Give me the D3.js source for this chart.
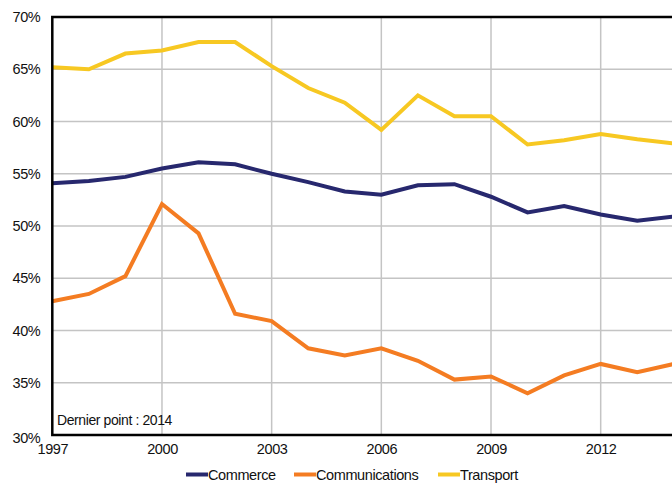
<!DOCTYPE html>
<html>
<head>
<meta charset="utf-8">
<script src="https://cdn.jsdelivr.net/npm/d3@7/dist/d3.min.js"></script>
<style>
  html, body { margin: 0; padding: 0; background: #fff; overflow: hidden; }
  svg { display: block; }
  text { font-family: "Liberation Sans", Arial, sans-serif; fill: #111; }
</style>
</head>
<body>
<svg id="chart" width="672" height="483"></svg>
<script>
// Share (%) by sector, 1997–2014
const years = d3.range(1997, 2015);
const commerce = [54.1, 54.3, 54.7, 55.5, 56.1, 55.9, 55.0, 54.2, 53.3, 53.0, 53.9, 54.0, 52.8, 51.3, 51.9, 51.1, 50.5, 50.9];
const communications = [42.8, 43.5, 45.2, 52.1, 49.3, 41.6, 40.9, 38.3, 37.6, 38.3, 37.1, 35.3, 35.6, 34.0, 35.7, 36.8, 36.0, 36.8];
const transport = [65.2, 65.0, 66.5, 66.8, 67.6, 67.6, 65.3, 63.2, 61.8, 59.2, 62.5, 60.5, 60.5, 57.8, 58.2, 58.8, 58.3, 57.9];
const seriesNames = ["Commerce", "Communications", "Transport"];
const seriesColors = ["#27286e", "#f47c22", "#f7c822"];
const yTicks = [30, 35, 40, 45, 50, 55, 60, 65, 70];
const xTicks = [1997, 2000, 2003, 2006, 2009, 2012];
const note = "Dernier point : 2014";

const series = [commerce, communications, transport];

const svg = d3.select("#chart");
const plotLeft = 52.3, plotRight = 673.8, plotTop = 17, plotBottom = 435;

const x = d3.scaleLinear().domain([1997, 2014]).range([plotLeft, plotRight]);
const y = d3.scaleLinear().domain([30, 70]).range([plotBottom, plotTop]);

// Grid
const grid = svg.append("g");
grid.selectAll("line.h").data(yTicks.slice(1, -1)).join("line")
  .attr("class", "h")
  .attr("x1", plotLeft).attr("x2", plotRight)
  .attr("y1", d => y(d)).attr("y2", d => y(d))
  .attr("stroke", "#c4c4c4").attr("stroke-width", 1.5);
grid.selectAll("line.v").data(xTicks.slice(1)).join("line")
  .attr("class", "v")
  .attr("x1", d => x(d)).attr("x2", d => x(d))
  .attr("y1", plotTop).attr("y2", plotBottom)
  .attr("stroke", "#c4c4c4").attr("stroke-width", 1.5);

// Y axis labels
const yAxis = d3.axisLeft(y).tickValues(yTicks).tickFormat(d => d + "%").tickSize(0).tickPadding(12);
const gy = svg.append("g").attr("transform", `translate(${plotLeft},0)`).call(yAxis);
gy.select(".domain").remove();
gy.selectAll("text").attr("font-size", 14.5).attr("font-family", "Liberation Sans, Arial, sans-serif")
  .attr("fill", "#111").attr("letter-spacing", "-0.4")
  .attr("dy", d => d === 30 ? "0.55em" : "0.32em");

// X axis labels
const xAxis = d3.axisBottom(x).tickValues(xTicks).tickFormat(d3.format("d")).tickSize(0).tickPadding(9);
const gx = svg.append("g").attr("transform", `translate(0,${plotBottom})`).call(xAxis);
gx.select(".domain").remove();
gx.selectAll("text").attr("font-size", 14.5).attr("font-family", "Liberation Sans, Arial, sans-serif")
  .attr("fill", "#111").attr("letter-spacing", "-0.4");

// Lines
const line = d3.line().x((d, i) => x(years[i])).y(d => y(d));
svg.append("g").selectAll("path").data(series).join("path")
  .attr("d", line)
  .attr("fill", "none")
  .attr("stroke", (d, i) => seriesColors[i])
  .attr("stroke-width", 4)
  .attr("stroke-linejoin", "miter");

// Frame (left, top, bottom)
svg.append("path")
  .attr("d", `M${plotRight + 5},${plotTop} H${plotLeft} V${plotBottom} H${plotRight + 5}`)
  .attr("fill", "none").attr("stroke", "#000").attr("stroke-width", 2.5);

// Note
svg.append("text").attr("x", 57).attr("y", 425)
  .attr("font-size", 14).attr("letter-spacing", "-0.4").text(note);

// Legend
const legendX = [186, 294, 438];
const lg = svg.append("g").selectAll("g").data(seriesNames).join("g")
  .attr("transform", (d, i) => `translate(${legendX[i]},474.5)`);
lg.append("line").attr("x1", 0).attr("x2", 22).attr("y1", 0).attr("y2", 0)
  .attr("stroke", (d, i) => seriesColors[i]).attr("stroke-width", 4);
lg.append("text").attr("x", 22).attr("y", 5).attr("font-size", 14.5)
  .attr("letter-spacing", "-0.4").text(d => d);
</script>
</body>
</html>
